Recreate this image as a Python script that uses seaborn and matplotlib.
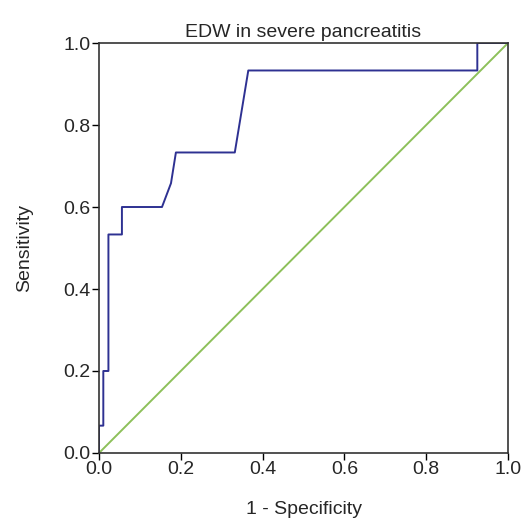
import matplotlib
matplotlib.use("Agg")
import matplotlib.pyplot as plt
import seaborn as sns
import pandas as pd

fpr = [0.0, 0.0, 0.0105, 0.0105, 0.023, 0.023, 0.056, 0.056, 0.154, 0.176, 0.188, 0.332, 0.365, 0.925, 0.925, 1.0]
tpr = [0.0, 0.0667, 0.0667, 0.2, 0.2, 0.533, 0.533, 0.6, 0.6, 0.658, 0.733, 0.733, 0.933, 0.933, 1.0, 1.0]
ref_x = [0.0, 1.0]
ref_y = [0.0, 1.0]
title = "EDW in severe pancreatitis"
xticks = [0.0, 0.2, 0.4, 0.6, 0.8, 1.0]
yticks = [0.0, 0.2, 0.4, 0.6, 0.8, 1.0]

sns.set_theme(style="white")
plt.rcParams['font.family'] = ['Liberation Sans', 'DejaVu Sans']

fig = plt.figure(figsize=(5.25, 5.22), dpi=100)
ax = fig.add_axes([0.1886, 0.1322, 0.7790, 0.7854])

roc = pd.DataFrame({"fpr": fpr, "tpr": tpr})
ref = pd.DataFrame({"x": ref_x, "y": ref_y})
sns.lineplot(data=ref, x="x", y="y", ax=ax, color="#8dc05a", linewidth=1.4,
             sort=False, estimator=None, errorbar=None)
sns.lineplot(data=roc, x="fpr", y="tpr", ax=ax, color="#2e3192", linewidth=1.4,
             sort=False, estimator=None, errorbar=None)

ax.set_xlim(0, 1)
ax.set_ylim(0, 1)
ax.set_xticks(xticks)
ax.set_yticks(yticks)
ax.set_xticklabels([f"{v:.1f}" for v in xticks], fontsize=14)
ax.set_yticklabels([f"{v:.1f}" for v in yticks], fontsize=14)
ax.tick_params(axis="both", which="both", direction="out", length=5, width=1, color="black",
               bottom=True, left=True, top=False, right=False, pad=1)
for s in ax.spines.values():
    s.set_color("#333333")
    s.set_linewidth(1.2)
ax.set_xlabel("1 - Specificity", fontsize=14, labelpad=16)
ax.set_ylabel("Sensitivity", fontsize=14, labelpad=22)
ax.set_title(title, fontsize=14, pad=4)
fig.savefig("out.png", dpi=100)
